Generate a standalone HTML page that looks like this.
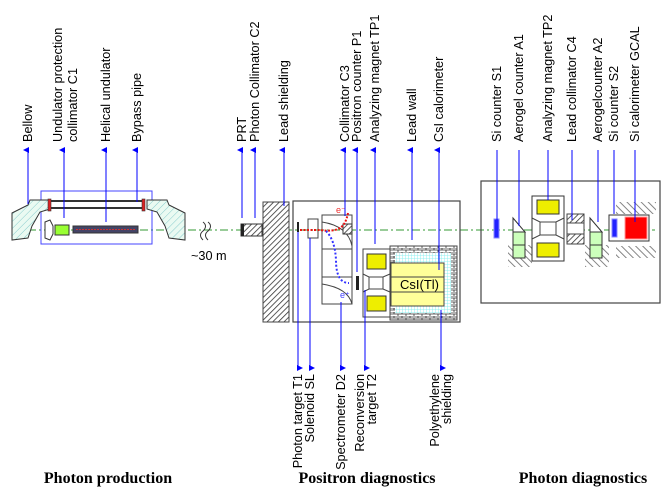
<!DOCTYPE html>
<html><head><meta charset="utf-8"><style>
html,body{margin:0;padding:0;background:#fff}
svg{display:block}
text{font-family:"Liberation Sans",sans-serif;font-size:12.7px;fill:#000}
.h{font-family:"Liberation Serif",serif;font-weight:bold;font-size:16px}
</style></head><body>
<svg width="663" height="498" viewBox="0 0 663 498" xmlns="http://www.w3.org/2000/svg">
<defs>
<pattern id="hx" width="4" height="4" patternUnits="userSpaceOnUse" patternTransform="rotate(45)"><rect width="4" height="4" fill="#fff"/><line x1="0" y1="0" x2="0" y2="4" stroke="#333" stroke-width="1.6"/></pattern>
<pattern id="hg" width="5" height="5" patternUnits="userSpaceOnUse" patternTransform="rotate(45)"><rect width="5" height="5" fill="#eafaf2"/><line x1="0" y1="0" x2="0" y2="5" stroke="#8cc" stroke-width="1"/></pattern>
<pattern id="hl" width="5" height="5" patternUnits="userSpaceOnUse" patternTransform="rotate(-45)"><line x1="0" y1="0" x2="0" y2="5" stroke="#777" stroke-width="1.8"/></pattern>
<pattern id="br" width="8" height="4" patternUnits="userSpaceOnUse"><rect width="8" height="4" fill="#fff"/><path d="M0 0H8M0 2H8M2 0V2M6 2V4" stroke="#333" stroke-width="0.8"/></pattern>
<pattern id="cy" width="3" height="3" patternUnits="userSpaceOnUse"><rect width="3" height="3" fill="#fff"/><path d="M0 0H3M0 0V3" stroke="#7ee" stroke-width="0.8"/></pattern>
<marker id="a" markerWidth="6" markerHeight="6" refX="3" refY="5" orient="auto-start-reverse" markerUnits="userSpaceOnUse"><path d="M0 6L3 0L6 6z" fill="#00f"/></marker>
</defs>

<line x1="12" y1="230" x2="655" y2="230" stroke="#393" stroke-dasharray="8,3,2,3" stroke-width="1"/>

<rect x="41" y="191" width="111" height="53" fill="none" stroke="#44f" stroke-width="1"/>
<path d="M12 213L28 205L30 200L50 200L50 209L40 212L32 226L28 238L12 240Z" fill="url(#hg)" stroke="#333"/>
<path d="M185 213L169 205L167 200L147 200L147 209L157 212L165 226L169 238L185 240Z" fill="url(#hg)" stroke="#333"/>
<rect x="50" y="201" width="93" height="7" fill="#fff" stroke="#333" stroke-width="2"/>
<rect x="48" y="199" width="3" height="12" fill="#d22" stroke="#333" stroke-width="0.6"/>
<rect x="142" y="199" width="3" height="12" fill="#d22" stroke="#333" stroke-width="0.6"/>
<path d="M45 222L50 220L53 226L53 234L50 240L45 238Z" fill="#fff" stroke="#333"/>
<rect x="55" y="225" width="14" height="10" fill="#9f3" stroke="#333"/>
<rect x="73" y="226" width="65" height="7" fill="#446" stroke="#333"/>
<line x1="76" y1="229.5" x2="135" y2="229.5" stroke="#c33" stroke-dasharray="2,1"/>
<path d="M203 222q5 4 0 9q-5 4 0 9M208 222q5 4 0 9q-5 4 0 9" fill="none" stroke="#333"/>
<text x="191" y="260">~30 m</text>

<rect x="241" y="224" width="21" height="12" fill="url(#hx)" stroke="#333"/>
<rect x="241" y="224" width="3" height="12" fill="#222"/>
<rect x="263" y="202" width="26" height="120" fill="url(#hx)" stroke="#444"/>
<rect x="293" y="201" width="167" height="121" fill="none" stroke="#444" stroke-width="1.2"/>
<rect x="297" y="222" width="2" height="10" fill="#222"/>
<rect x="308" y="219" width="10" height="19" fill="none" stroke="#444"/>
<rect x="322" y="215" width="30" height="89" fill="none" stroke="#444"/>
<path d="M322 222Q348 226 352 246M322 249H352M322 277H352M322 284Q348 288 352 304" fill="none" stroke="#444"/>
<rect x="343" y="224" width="9" height="10" fill="url(#hx)" stroke="#333"/>
<path d="M300 230H320Q333 232 340 228Q346 224 348 213" fill="none" stroke="#e11" stroke-width="2" stroke-dasharray="2,1.5"/>
<text x="336" y="213" font-size="9" style="fill:#e33;font-size:9px">e⁻</text>
<path d="M326 231Q335 240 336 260Q336 283 349 283" fill="none" stroke="#33f" stroke-width="2" stroke-dasharray="2,2"/>
<text x="340" y="298" style="fill:#44f;font-size:9px">e⁺</text>
<rect x="356" y="276" width="3" height="14" fill="#222"/>
<rect x="363" y="249" width="27" height="68" fill="#fff" stroke="#444"/>
<rect x="367" y="254" width="19" height="15" fill="#ee0" stroke="#333"/>
<rect x="367" y="296" width="19" height="15" fill="#ee0" stroke="#333"/>
<path d="M363 274L369 277H383L390 274M363 292L369 289H383L390 292M369 277V289M383 277V289" fill="none" stroke="#444"/>
<rect x="390" y="246" width="67" height="74" fill="url(#br)" stroke="#444"/>
<rect x="395" y="253" width="56" height="60" fill="url(#cy)"/>
<rect x="391" y="263" width="53" height="43" fill="#ff9" stroke="#444"/>
<line x1="391" y1="277" x2="444" y2="277" stroke="#444"/>
<line x1="391" y1="292" x2="444" y2="292" stroke="#444"/>
<text x="400" y="289" style="font-size:13px">CsI(Tl)</text>

<rect x="481" y="181" width="179" height="122" fill="none" stroke="#444" stroke-width="1.2"/>
<rect x="494" y="219" width="5" height="19" fill="#22f" stroke="#88f"/>
<rect x="508" y="245" width="24" height="22" fill="url(#hl)"/>
<path d="M513 218L525 232H513Z" fill="#fff" stroke="#333"/>
<rect x="513" y="232" width="12" height="26" fill="#cfb" stroke="#333"/>
<line x1="513" y1="245" x2="525" y2="245" stroke="#333"/>
<rect x="532" y="196" width="32" height="65" fill="#fff" stroke="#333"/>
<rect x="537" y="200" width="22" height="14" fill="#ee0" stroke="#333"/>
<rect x="537" y="243" width="22" height="14" fill="#ee0" stroke="#333"/>
<path d="M532 218L540 222H556L564 218M532 239L540 235H556L564 239M540 222V235M556 222V235" fill="none" stroke="#444"/>
<rect x="567" y="214" width="17" height="30" fill="url(#hx)" stroke="#444"/>
<rect x="567" y="223" width="17" height="11" fill="#fff" stroke="#444"/>
<rect x="585" y="245" width="24" height="22" fill="url(#hl)"/>
<path d="M590 218L602 232H590Z" fill="#fff" stroke="#333"/>
<rect x="590" y="232" width="12" height="26" fill="#cfb" stroke="#333"/>
<line x1="590" y1="245" x2="602" y2="245" stroke="#333"/>
<rect x="616" y="202" width="40" height="12" fill="url(#hl)"/>
<rect x="616" y="246" width="40" height="12" fill="url(#hl)"/>
<rect x="609" y="215" width="40" height="26" fill="#fff" stroke="#333"/>
<rect x="612" y="219" width="5" height="18" fill="#22f" stroke="#88f"/>
<rect x="625" y="217" width="22" height="22" fill="#f00" stroke="#f99"/>

<g stroke="#00f" stroke-width="1" fill="none">
<line x1="28" y1="150" x2="28" y2="204" marker-start="url(#a)"/>
<line x1="64" y1="150" x2="64" y2="218" marker-start="url(#a)"/>
<line x1="106" y1="150" x2="106" y2="222" marker-start="url(#a)"/>
<line x1="137" y1="150" x2="137" y2="202" marker-start="url(#a)"/>
<line x1="242" y1="150" x2="242" y2="218" marker-start="url(#a)"/>
<line x1="255" y1="150" x2="255" y2="218" marker-start="url(#a)"/>
<line x1="284" y1="150" x2="284" y2="206" marker-start="url(#a)"/>
<line x1="345" y1="150" x2="345" y2="216" marker-start="url(#a)"/>
<line x1="357" y1="150" x2="357" y2="272" marker-start="url(#a)"/>
<line x1="375" y1="150" x2="375" y2="244" marker-start="url(#a)"/>
<line x1="412" y1="150" x2="412" y2="240" marker-start="url(#a)"/>
<line x1="439" y1="150" x2="439" y2="270" marker-start="url(#a)"/>
<line x1="497" y1="150" x2="497" y2="220"/>
<line x1="519" y1="150" x2="519" y2="226"/>
<line x1="548" y1="150" x2="548" y2="200"/>
<line x1="572" y1="150" x2="572" y2="220"/>
<line x1="598" y1="150" x2="598" y2="222"/>
<line x1="614" y1="150" x2="614" y2="214"/>
<line x1="635" y1="150" x2="635" y2="222"/>
<line x1="298" y1="232" x2="298" y2="368" marker-end="url(#a)"/>
<line x1="310" y1="238" x2="310" y2="368" marker-end="url(#a)"/>
<line x1="341" y1="302" x2="341" y2="368" marker-end="url(#a)"/>
<line x1="365" y1="290" x2="365" y2="368" marker-end="url(#a)"/>
<line x1="441" y1="310" x2="441" y2="368" marker-end="url(#a)"/>
</g>

<g>
<text transform="translate(32,142) rotate(-90)">Bellow</text>
<text transform="translate(62,142) rotate(-90)">Undulator protection</text>
<text transform="translate(77,142) rotate(-90)">collimator C1</text>
<text transform="translate(110,142) rotate(-90)">Helical undulator</text>
<text transform="translate(141,142) rotate(-90)">Bypass pipe</text>
<text transform="translate(246,142) rotate(-90)">PRT</text>
<text transform="translate(259,142) rotate(-90)">Photon Collimator C2</text>
<text transform="translate(288,142) rotate(-90)">Lead shielding</text>
<text transform="translate(349,142) rotate(-90)">Collimator C3</text>
<text transform="translate(361,142) rotate(-90)">Positron counter P1</text>
<text transform="translate(379,142) rotate(-90)">Analyzing magnet TP1</text>
<text transform="translate(416,142) rotate(-90)">Lead wall</text>
<text transform="translate(443,142) rotate(-90)">CsI calorimeter</text>
<text transform="translate(501,142) rotate(-90)">Si counter S1</text>
<text transform="translate(523,142) rotate(-90)">Aerogel counter A1</text>
<text transform="translate(552,142) rotate(-90)">Analyzing magnet TP2</text>
<text transform="translate(576,142) rotate(-90)">Lead collimator C4</text>
<text transform="translate(602,142) rotate(-90)">Aerogelcounter A2</text>
<text transform="translate(618,142) rotate(-90)">Si counter S2</text>
<text transform="translate(639,142) rotate(-90)">Si calorimeter GCAL</text>
</g>
<g text-anchor="end">
<text transform="translate(302,374) rotate(-90)">Photon target T1</text>
<text transform="translate(314,374) rotate(-90)">Solenoid SL</text>
<text transform="translate(345,374) rotate(-90)">Spectrometer D2</text>
<text transform="translate(364,374) rotate(-90)">Reconversion</text>
<text transform="translate(376,374) rotate(-90)">target T2</text>
<text transform="translate(439,374) rotate(-90)">Polyethylene</text>
<text transform="translate(451,374) rotate(-90)">shielding</text>
</g>

<text class="h" x="108" y="483" text-anchor="middle">Photon production</text>
<text class="h" x="367" y="483" text-anchor="middle">Positron diagnostics</text>
<text class="h" x="583" y="483" text-anchor="middle">Photon diagnostics</text>
</svg>
</body></html>
